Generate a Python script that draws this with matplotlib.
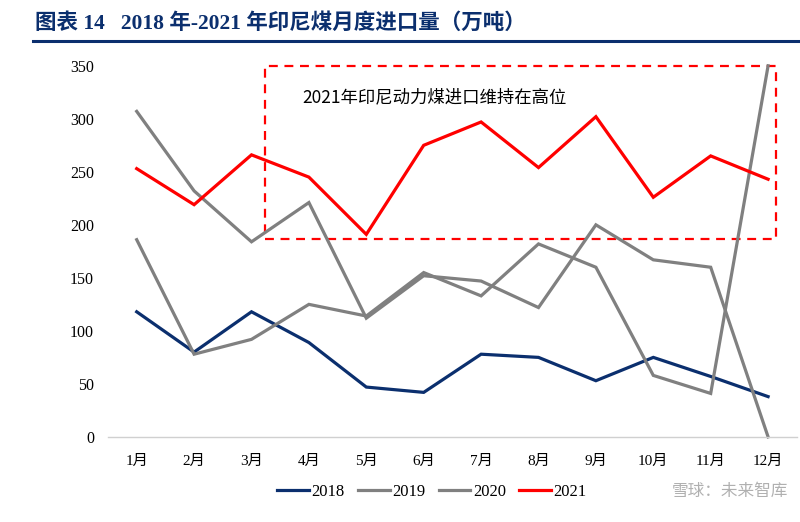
"""
2018-2021 印尼煤月度进口量（万吨）
Line chart of monthly Indonesian coal imports, four years, with a dashed
box highlighting the 2021 level.
"""

import matplotlib.pyplot as plt
from matplotlib.patches import Rectangle

plt.rcParams["font.family"] = ["Liberation Serif", "Noto Sans CJK SC", "DejaVu Sans"]

# Data (万吨)
months = ["1月", "2月", "3月", "4月", "5月", "6月", "7月", "8月", "9月", "10月", "11月", "12月"]
imports_2018 = [118, 80, 118, 89, 47, 42, 78, 75, 53, 75, 57, 38]
imports_2019 = [307, 232, 184, 221, 112, 152, 147, 122, 200, 167, 160, 0]
imports_2020 = [186, 78, 92, 125, 114, 155, 133, 182, 160, 58, 41, 350]
imports_2021 = [253, 219, 266, 245, 191, 275, 297, 254, 302, 226, 265, 243]
years = ["2018", "2019", "2020", "2021"]
y_ticks = [0, 50, 100, 150, 200, 250, 300, 350]

NAVY = "#0b2f6e"
GRAY = "#808080"
RED = "#ff0000"

fig = plt.figure(figsize=(8, 5.22), dpi=100)

# Title and the rule under it
fig.text(0.044, 0.955, "图表 14   2018 年-2021 年印尼煤月度进口量（万吨）",
         fontsize=15.5, fontweight="bold", color=NAVY, va="center",
         family=["Liberation Serif", "Noto Sans CJK SC"])
fig.add_artist(plt.Line2D([0.041, 1.0], [0.921, 0.921], color=NAVY, linewidth=2.2))

ax = fig.add_axes([0.135, 0.163, 0.861, 0.711])
x = range(len(months))
series = [imports_2018, imports_2019, imports_2020, imports_2021]
colors = [NAVY, GRAY, GRAY, RED]
for values, color, label in zip(series, colors, years):
    ax.plot(x, values, color=color, linewidth=2.3, label=label, clip_on=False,
            solid_joinstyle="miter")

# Highlight box for 2021
ax.add_patch(Rectangle((2.23, 187), 11.14 - 2.23, 350 - 187, fill=False,
                       edgecolor=RED, linestyle=(0, (4, 3)), linewidth=1.6,
                       clip_on=False))
ax.text(2.88, 320, "2021年印尼动力煤进口维持在高位", fontsize=12.5,
        va="center", ha="left", family=["Noto Sans CJK SC"])

ax.set_xlim(-0.5, 11.5)
ax.set_ylim(0, 350)
ax.set_xticks(list(x))
ax.set_xticklabels(months, fontsize=11)
ax.set_yticks(y_ticks)
ax.set_yticklabels([str(v) for v in y_ticks], fontsize=11.5)
ax.tick_params(length=0)
ax.tick_params(axis="x", pad=13)
ax.tick_params(axis="y", pad=10)
for side in ["top", "right", "left"]:
    ax.spines[side].set_visible(False)
ax.spines["bottom"].set_color("#d0d0d0")
ax.spines["bottom"].set_linewidth(1.0)

fig.legend(loc="center", bbox_to_anchor=(0.54, 0.058), ncol=4, frameon=False,
           handlelength=1.9, handletextpad=0.15, columnspacing=0.8,
           prop={"family": "Liberation Serif", "size": 12})

# Watermark
fig.text(0.84, 0.058, "雪球：未来智库", fontsize=12, color="#b0b0b0",
         va="center", ha="left", family=["Noto Sans CJK SC"])

plt.savefig("out.png", dpi=100)
